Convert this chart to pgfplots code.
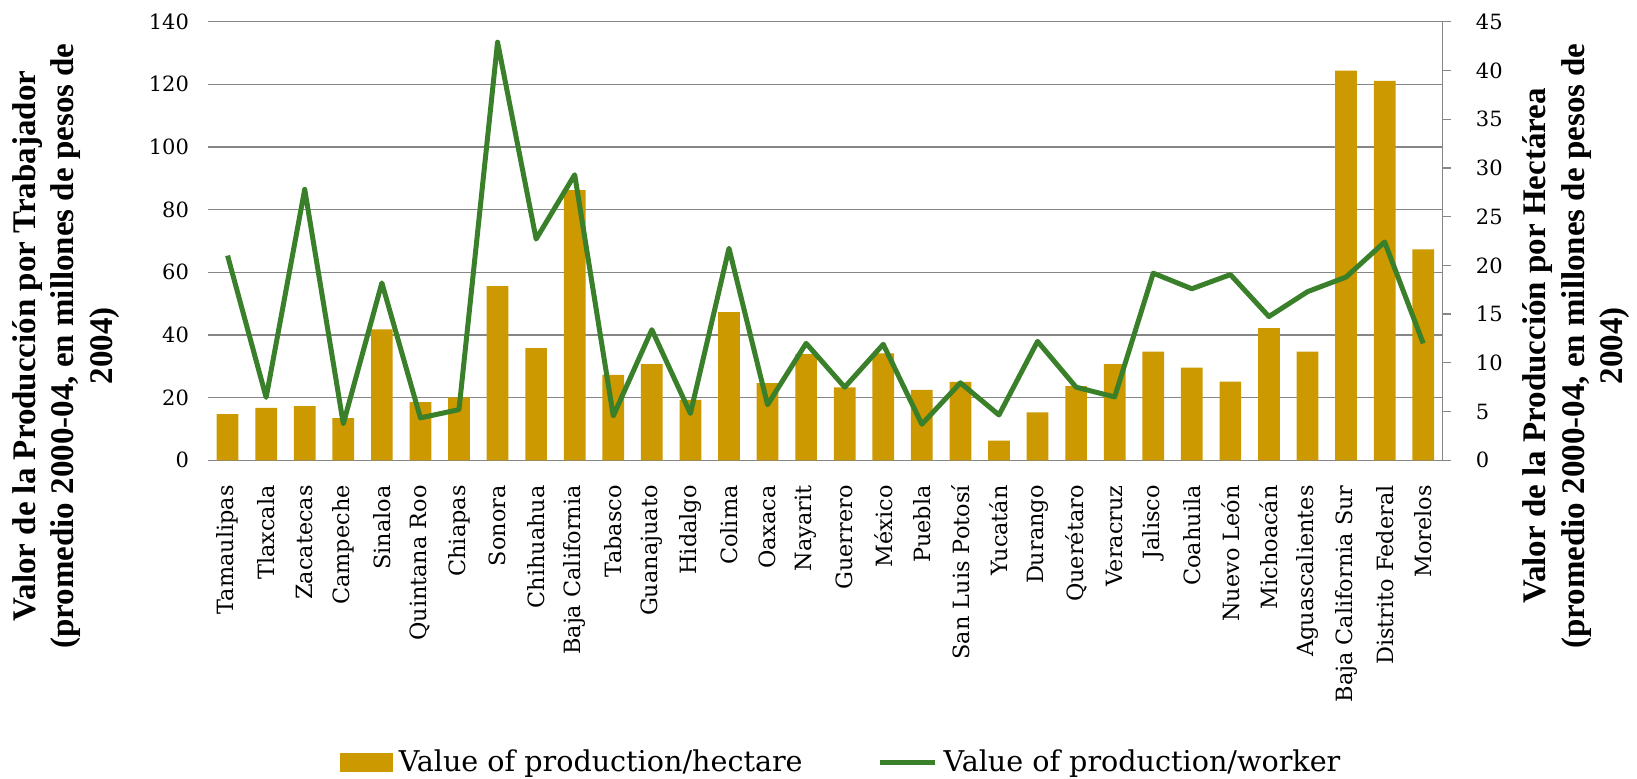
\documentclass[border=0pt]{standalone}
\usepackage{fontspec}
\setmainfont{DejaVu Serif}
\newfontfamily\titlefont{Liberation Serif}
\usepackage{pgfplots}
\pgfplotsset{compat=1.18}
\definecolor{barcol}{RGB}{204,153,0}
\definecolor{linecol}{RGB}{58,128,42}
\definecolor{gridcol}{RGB}{134,134,134}

\begin{document}
\begin{tikzpicture}
\pgfplotsset{
  base/.style={width=617.1pt,height=219.3pt,scale only axis,
    xmin=-0.5,xmax=31.5,clip=false,
    /pgf/number format/assume math mode=true,
    tick label style={font=\fontsize{10.5}{12}\selectfont},
    label style={font=\titlefont\bfseries\fontsize{16.5}{19.25}\selectfont,align=center,anchor=center}}
}
\begin{axis}[base,name=main,
  ymin=0,ymax=140,ytick={0,20,...,140},
  ymajorgrids,grid style={gridcol,line width=0.6pt},
  axis x line*=bottom,axis y line*=left,
  x axis line style={gridcol,line width=0.6pt,-},
  y axis line style={draw=none},
  major tick length=0pt,
  xtick={0,...,31},
  xticklabels={Tamaulipas,Tlaxcala,Zacatecas,Campeche,Sinaloa,Quintana Roo,Chiapas,Sonora,Chihuahua,Baja California,Tabasco,Guanajuato,Hidalgo,Colima,Oaxaca,Nayarit,Guerrero,México,Puebla,San Luis Potosí,Yucatán,Durango,Querétaro,Veracruz,Jalisco,Coahuila,Nuevo León,Michoacán,Aguascalientes,Baja California Sur,Distrito Federal,Morelos},
  xticklabel style={rotate=90,anchor=east,inner sep=0pt,font=\fontsize{11.2}{12}\selectfont},
  xticklabel shift=12.3pt,
  yticklabel style={anchor=east,inner sep=0pt},
  yticklabel shift=9.5pt,
  ylabel={Valor de la Producción por Trabajador\\(promedio 2000-04, en millones de pesos de\\2004)},
  ylabel style={at={(axis description cs:-0.1153,0.2606)}},
]
\addplot[ybar,bar width=10.85pt,fill=barcol,draw=none] coordinates {
(0,14.7)(1,16.7)(2,17.3)(3,13.5)(4,41.8)(5,18.6)(6,20.1)(7,55.6)
(8,35.8)(9,86.2)(10,27.3)(11,30.7)(12,19.3)(13,47.3)(14,24.6)(15,33.9)
(16,23.3)(17,34.1)(18,22.5)(19,25.0)(20,6.3)(21,15.3)(22,23.7)(23,30.7)
(24,34.7)(25,29.6)(26,25.1)(27,42.2)(28,34.7)(29,124.4)(30,121.1)(31,67.3)};
\end{axis}
\begin{axis}[base,
  ymin=0,ymax=45,ytick={0,5,...,45},
  axis y line*=right,axis x line=none,
  y axis line style={gridcol,line width=0.6pt,-},
  ytick style={gridcol,line width=0.6pt},
  tick align=outside,major tick length=4pt,
  yticklabel style={anchor=west,inner sep=0pt},
  yticklabel shift=12.5pt,
  ylabel={Valor de la Producción por Hectárea\\(promedio 2000-04, en millones de pesos de\\2004)},
  ylabel style={at={(axis description cs:1.1082,0.2606)}},
  legend columns=2,
  legend style={at={(axis description cs:0.512,-0.688)},anchor=center,draw=none,fill=none,
    font=\fontsize{14.3}{16}\selectfont,inner sep=0pt,
    nodes={inner sep=0pt},
    /tikz/every even column/.append style={column sep=37.5pt}},
  legend cell align=left,
]
\addlegendimage{legend image code/.code={\fill[barcol] (0pt,-4.5pt) rectangle (26pt,4.5pt);}}
\addlegendentry{\hspace{3pt}Value of production/hectare}
\addplot[linecol,line width=2.5pt,line join=round,
  legend image code/.code={\draw[linecol,line width=2.5pt] (0pt,0pt) -- (27.5pt,0pt);}] coordinates {
(0,21.0)(1,6.45)(2,27.8)(3,3.75)(4,18.2)(5,4.35)(6,5.2)(7,42.9)
(8,22.7)(9,29.3)(10,4.55)(11,13.4)(12,4.8)(13,21.75)(14,5.7)(15,12.0)
(16,7.5)(17,11.9)(18,3.7)(19,7.95)(20,4.65)(21,12.2)(22,7.5)(23,6.5)
(24,19.2)(25,17.6)(26,19.05)(27,14.75)(28,17.3)(29,18.8)(30,22.4)(31,12.0)};
\addlegendentry{\hspace{3pt}Value of production/worker}
\end{axis}
\path (main.south west) ++(-104.15pt,-159.35pt) rectangle ++(818.5pt,389.5pt);
\end{tikzpicture}
\end{document}
